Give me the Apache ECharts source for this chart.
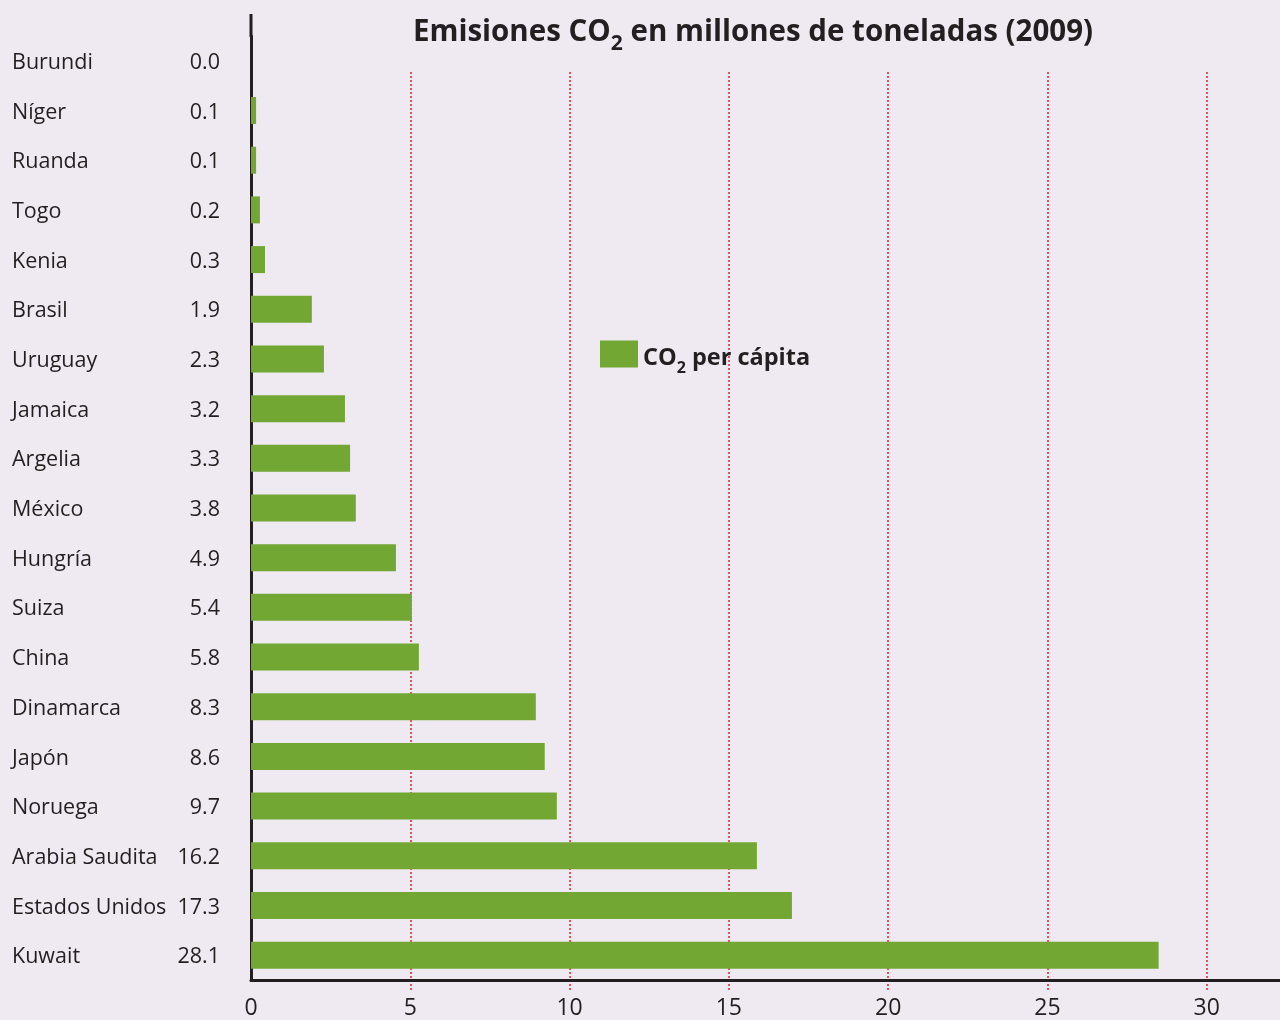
<!DOCTYPE html>
<html lang="es">

<head>
  <meta charset="utf-8">
  <title>Emisiones CO2 (2009)</title>
  <script src="https://cdn.jsdelivr.net/npm/echarts@6/dist/echarts.min.js"></script>
  <style type="text/css">
    html, body { margin: 0; padding: 0; background: #efe9f1; }
    #chart { width: 1280px; height: 1020px; }
  </style>
</head>

<body>
<div id="chart"></div>
<script type="text/javascript">

  // countries, top to bottom
  let paises = ['Burundi', 'Níger', 'Ruanda', 'Togo', 'Kenia', 'Brasil', 'Uruguay', 'Jamaica', 'Argelia',
    'México', 'Hungría', 'Suiza', 'China', 'Dinamarca', 'Japón', 'Noruega', 'Arabia Saudita',
    'Estados Unidos', 'Kuwait'];
  // figures printed next to each country
  let valores = [0.0, 0.1, 0.1, 0.2, 0.3, 1.9, 2.3, 3.2, 3.3, 3.8, 4.9, 5.4, 5.8, 8.3, 8.6, 9.7, 16.2, 17.3, 28.1];
  // bar lengths as drawn in the picture (they don't match the printed figures exactly)
  let barras = [0, 0.16, 0.16, 0.28, 0.44, 1.91, 2.29, 2.95, 3.11, 3.29, 4.55, 5.05, 5.27, 8.94, 9.22, 9.60,
    15.88, 16.98, 28.49];
  let ticksX = [0, 5, 10, 15, 20, 25, 30];

  let texto = '#231f20';
  let fuente = '"Open Sans", sans-serif';
  let maxX = 32.3;

  let chart = echarts.init(document.getElementById('chart'));

  let option = {
    backgroundColor: '#efe9f1',
    animation: false,
    title: {
      text: 'Emisiones CO{s|2} en millones de toneladas (2009)',
      left: 748,
      top: 6,
      textAlign: 'center',
      textStyle: {
        fontFamily: fuente, fontSize: 29.5, fontWeight: 'bold', color: texto, lineHeight: 36,
        rich: {
          s: { fontFamily: fuente, fontSize: 21, fontWeight: 'bold', color: texto, lineHeight: 44, verticalAlign: 'bottom' }
        }
      }
    },
    legend: {
      left: 600,
      top: 332,
      padding: 0,
      itemWidth: 38,
      itemHeight: 27,
      itemGap: 8,
      icon: 'rect',
      formatter: function() { return 'CO{s|2} per cápita'; },
      textStyle: {
        fontFamily: fuente, fontSize: 23.5, fontWeight: 'bold', color: texto, lineHeight: 28,
        padding: [8, 0, 0, 0],
        rich: {
          s: { fontFamily: fuente, fontSize: 16, fontWeight: 'bold', color: texto, lineHeight: 36, verticalAlign: 'bottom' }
        }
      }
    },
    grid: [
      { left: 251, right: 0, top: 36, bottom: 37 },
      // second grid only for the dotted red guide lines
      { left: 251, right: 0, top: 72, bottom: 28 }
    ],
    xAxis: [
      {
        gridIndex: 0, type: 'value', min: 0, max: maxX, interval: 5,
        axisLine: { show: true, lineStyle: { color: texto, width: 3 } },
        axisTick: { show: false },
        splitLine: { show: false },
        axisLabel: {
          showMaxLabel: false, margin: 17,
          fontFamily: fuente, fontSize: 23, color: texto,
          formatter: function(v) { return ticksX.indexOf(v) >= 0 ? String(v) : ''; }
        }
      },
      {
        gridIndex: 1, type: 'value', min: 0, max: maxX, interval: 5,
        axisLine: { show: false }, axisTick: { show: false }, axisLabel: { show: false },
        splitLine: {
          show: true, showMinLine: false, showMaxLine: false,
          lineStyle: { color: '#d9252f', width: 1.5, type: [2, 2] }
        }
      }
    ],
    yAxis: [
      {
        gridIndex: 0, type: 'category', data: paises, inverse: true,
        axisLine: { show: true, lineStyle: { color: texto, width: 3 } },
        axisTick: { show: false },
        axisLabel: {
          align: 'left', margin: 239,
          formatter: function(v, i) {
            return '{n|' + v + '}{v|' + valores[i].toFixed(1) + '}';
          },
          rich: {
            n: { fontFamily: fuente, fontSize: 21.5, color: texto, width: 166, align: 'left', padding: [4, 0, 0, 0] },
            v: { fontFamily: fuente, fontSize: 21.5, color: texto, width: 42, align: 'right', padding: [4, 0, 0, 0] }
          }
        }
      },
      {
        gridIndex: 1, type: 'value', show: false
      }
    ],
    graphic: [
      // the vertical axis runs up past the plot top
      { type: 'line', shape: { x1: 251, y1: 14, x2: 251, y2: 37 }, style: { stroke: texto, lineWidth: 3 } }
    ],
    series: [
      {
        name: 'CO2 per cápita',
        type: 'bar',
        xAxisIndex: 0, yAxisIndex: 0,
        data: barras,
        barWidth: 27,
        itemStyle: { color: '#73a734' }
      }
    ]
  };

  chart.setOption(option);

</script>
</body>

</html>
